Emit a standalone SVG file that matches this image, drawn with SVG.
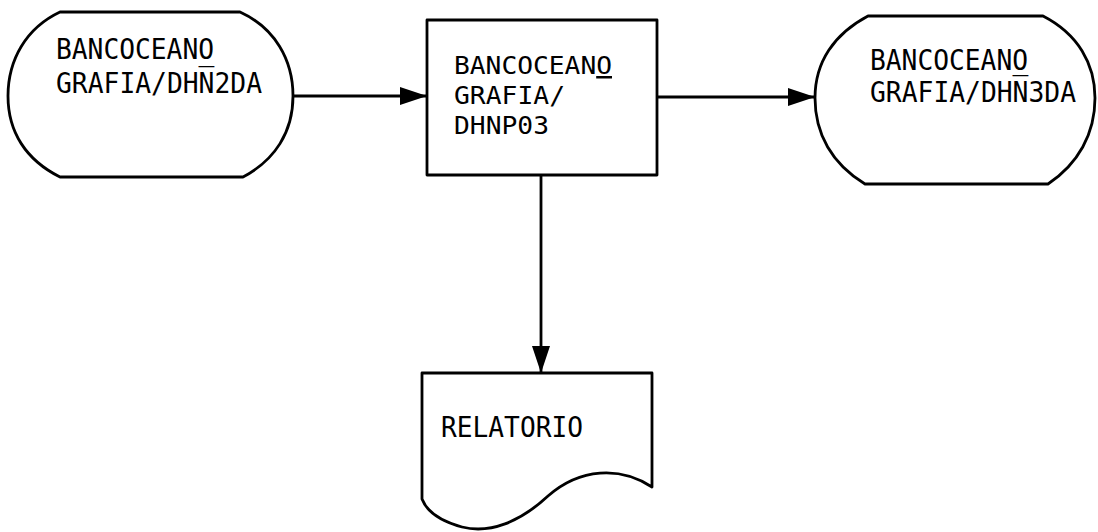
<svg xmlns="http://www.w3.org/2000/svg" width="1098" height="532" viewBox="0 0 1098 532">
<defs>
<style>
.shape{fill:#fff;stroke:#000;stroke-width:2.8;stroke-linejoin:round}
.conn{fill:none;stroke:#000;stroke-width:2.8}
.lbl{font-family:"DejaVu Sans Mono","Liberation Mono",monospace;font-size:28px;fill:#000}
.lbl-box{font-size:25px}
</style>
<marker id="ah" markerUnits="userSpaceOnUse" markerWidth="28" markerHeight="18" refX="27" refY="9" orient="auto">
<path d="M0,0 L27,9 L0,18 Z" fill="#000"/>
</marker>
</defs>
<rect width="1098" height="532" fill="#fff"/>
<g id="connectors">
<line class="conn" x1="292" y1="96" x2="427" y2="96" marker-end="url(#ah)"/>
<line class="conn" x1="657" y1="97" x2="815" y2="97" marker-end="url(#ah)"/>
<line class="conn" x1="541" y1="175" x2="541" y2="373" marker-end="url(#ah)"/>
</g>
<g id="node-input">
<path class="shape" d="M60,12 L240,12 C275,28 293,60 293,96 C293,132 275,160 243,177 L60,177 C26,160 8,132 8,96 C8,60 26,28 60,12 Z"/>
<text class="lbl"><tspan x="56" y="59" textLength="158" lengthAdjust="spacingAndGlyphs">BANCOCEANO</tspan><tspan x="56" y="93" textLength="206" lengthAdjust="spacingAndGlyphs">GRAFIA/DHN̅2DA</tspan></text>
</g>
<g id="node-process">
<rect class="shape" x="427" y="20" width="230" height="155"/>
<text class="lbl lbl-box"><tspan x="454" y="74" textLength="158" lengthAdjust="spacingAndGlyphs">BANCOCEAN<tspan text-decoration="underline">O</tspan></tspan><tspan x="454" y="104" textLength="111" lengthAdjust="spacingAndGlyphs">GRAFIA/</tspan><tspan x="454" y="134" textLength="95" lengthAdjust="spacingAndGlyphs">DHNP03</tspan></text>
</g>
<g id="node-output">
<path class="shape" d="M868,16 L1043,16 C1078,34 1095,64 1095,98 C1095,134 1078,164 1048,184 L865,184 C832,164 815,134 815,98 C815,62 834,34 868,16 Z"/>
<text class="lbl"><tspan x="870" y="70" textLength="158" lengthAdjust="spacingAndGlyphs">BANCOCEANO</tspan><tspan x="870" y="102" textLength="206" lengthAdjust="spacingAndGlyphs">GRAFIA/DHN̅3DA</tspan></text>
</g>
<g id="node-report">
<path class="shape" d="M422,373 L652,373 L652,487 C620,466 580,468 548,496 C520,522 490,534 462,527 C440,521 427,512 422,499 Z"/>
<text class="lbl" x="441" y="437" textLength="142" lengthAdjust="spacingAndGlyphs">RELATORIO</text>
</g>
</svg>
